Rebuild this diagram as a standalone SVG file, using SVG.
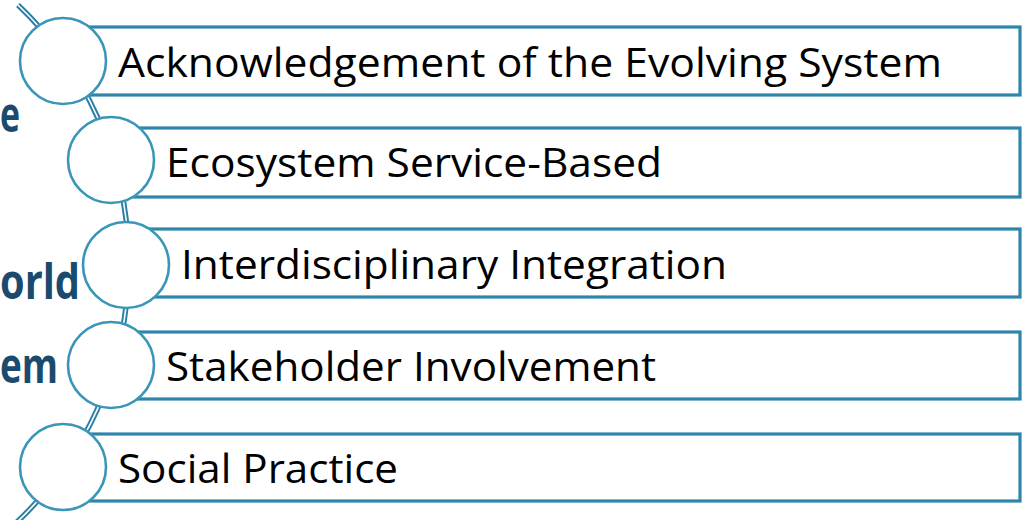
<svg xmlns="http://www.w3.org/2000/svg" width="1027" height="520" viewBox="0 0 1027 520">
<style>
.box{fill:#ffffff;stroke:#2d85a9;stroke-width:3.2}
.dot{fill:#ffffff;stroke:#3a96b8;stroke-width:2.6}
.lbl{font-family:"Open Sans","Noto Sans",sans-serif;font-size:40px;fill:#000000}
.side{font-family:"Open Sans","Noto Sans",sans-serif;font-weight:bold;font-size:48px;fill:#1a4a6d}
.rail{fill:none;stroke:#2a80a4;stroke-width:5.5}
.railin{fill:none;stroke:#ffffff;stroke-width:1.6}
</style>
<rect width="1027" height="520" fill="#ffffff"/>
<g id="side-text">
<text class="side" x="0" y="132" textLength="20" lengthAdjust="spacingAndGlyphs">e</text>
<text class="side" x="0" y="299" textLength="80" lengthAdjust="spacingAndGlyphs">orld</text>
<text class="side" x="0" y="383" textLength="58" lengthAdjust="spacingAndGlyphs">em</text>
</g>
<g id="connectors">
<path class="rail" d="M 18,5 A 356 356 0 0 1 17,522"/>
<path class="railin" d="M 18,5 A 356 356 0 0 1 17,522"/>
</g>
<g id="node1">
<rect class="box" x="63" y="27" width="957" height="68"/>
<circle class="dot" cx="63" cy="61" r="43"/>
<text class="lbl" x="118" y="77" textLength="824" lengthAdjust="spacingAndGlyphs">Acknowledgement of the Evolving System</text>
</g>
<g id="node2">
<rect class="box" x="111" y="128" width="909" height="69"/>
<circle class="dot" cx="111" cy="160" r="43"/>
<text class="lbl" x="166" y="177" textLength="496" lengthAdjust="spacingAndGlyphs">Ecosystem Service-Based</text>
</g>
<g id="node3">
<rect class="box" x="126" y="229" width="894" height="68"/>
<circle class="dot" cx="126" cy="265" r="43"/>
<text class="lbl" x="181" y="279" textLength="546" lengthAdjust="spacingAndGlyphs">Interdisciplinary Integration</text>
</g>
<g id="node4">
<rect class="box" x="111" y="332" width="909" height="67"/>
<circle class="dot" cx="111" cy="365" r="43"/>
<text class="lbl" x="166" y="381" textLength="490" lengthAdjust="spacingAndGlyphs">Stakeholder Involvement</text>
</g>
<g id="node5">
<rect class="box" x="63" y="434" width="957" height="67"/>
<circle class="dot" cx="63" cy="467" r="43"/>
<text class="lbl" x="118" y="483" textLength="280" lengthAdjust="spacingAndGlyphs">Social Practice</text>
</g>
</svg>
